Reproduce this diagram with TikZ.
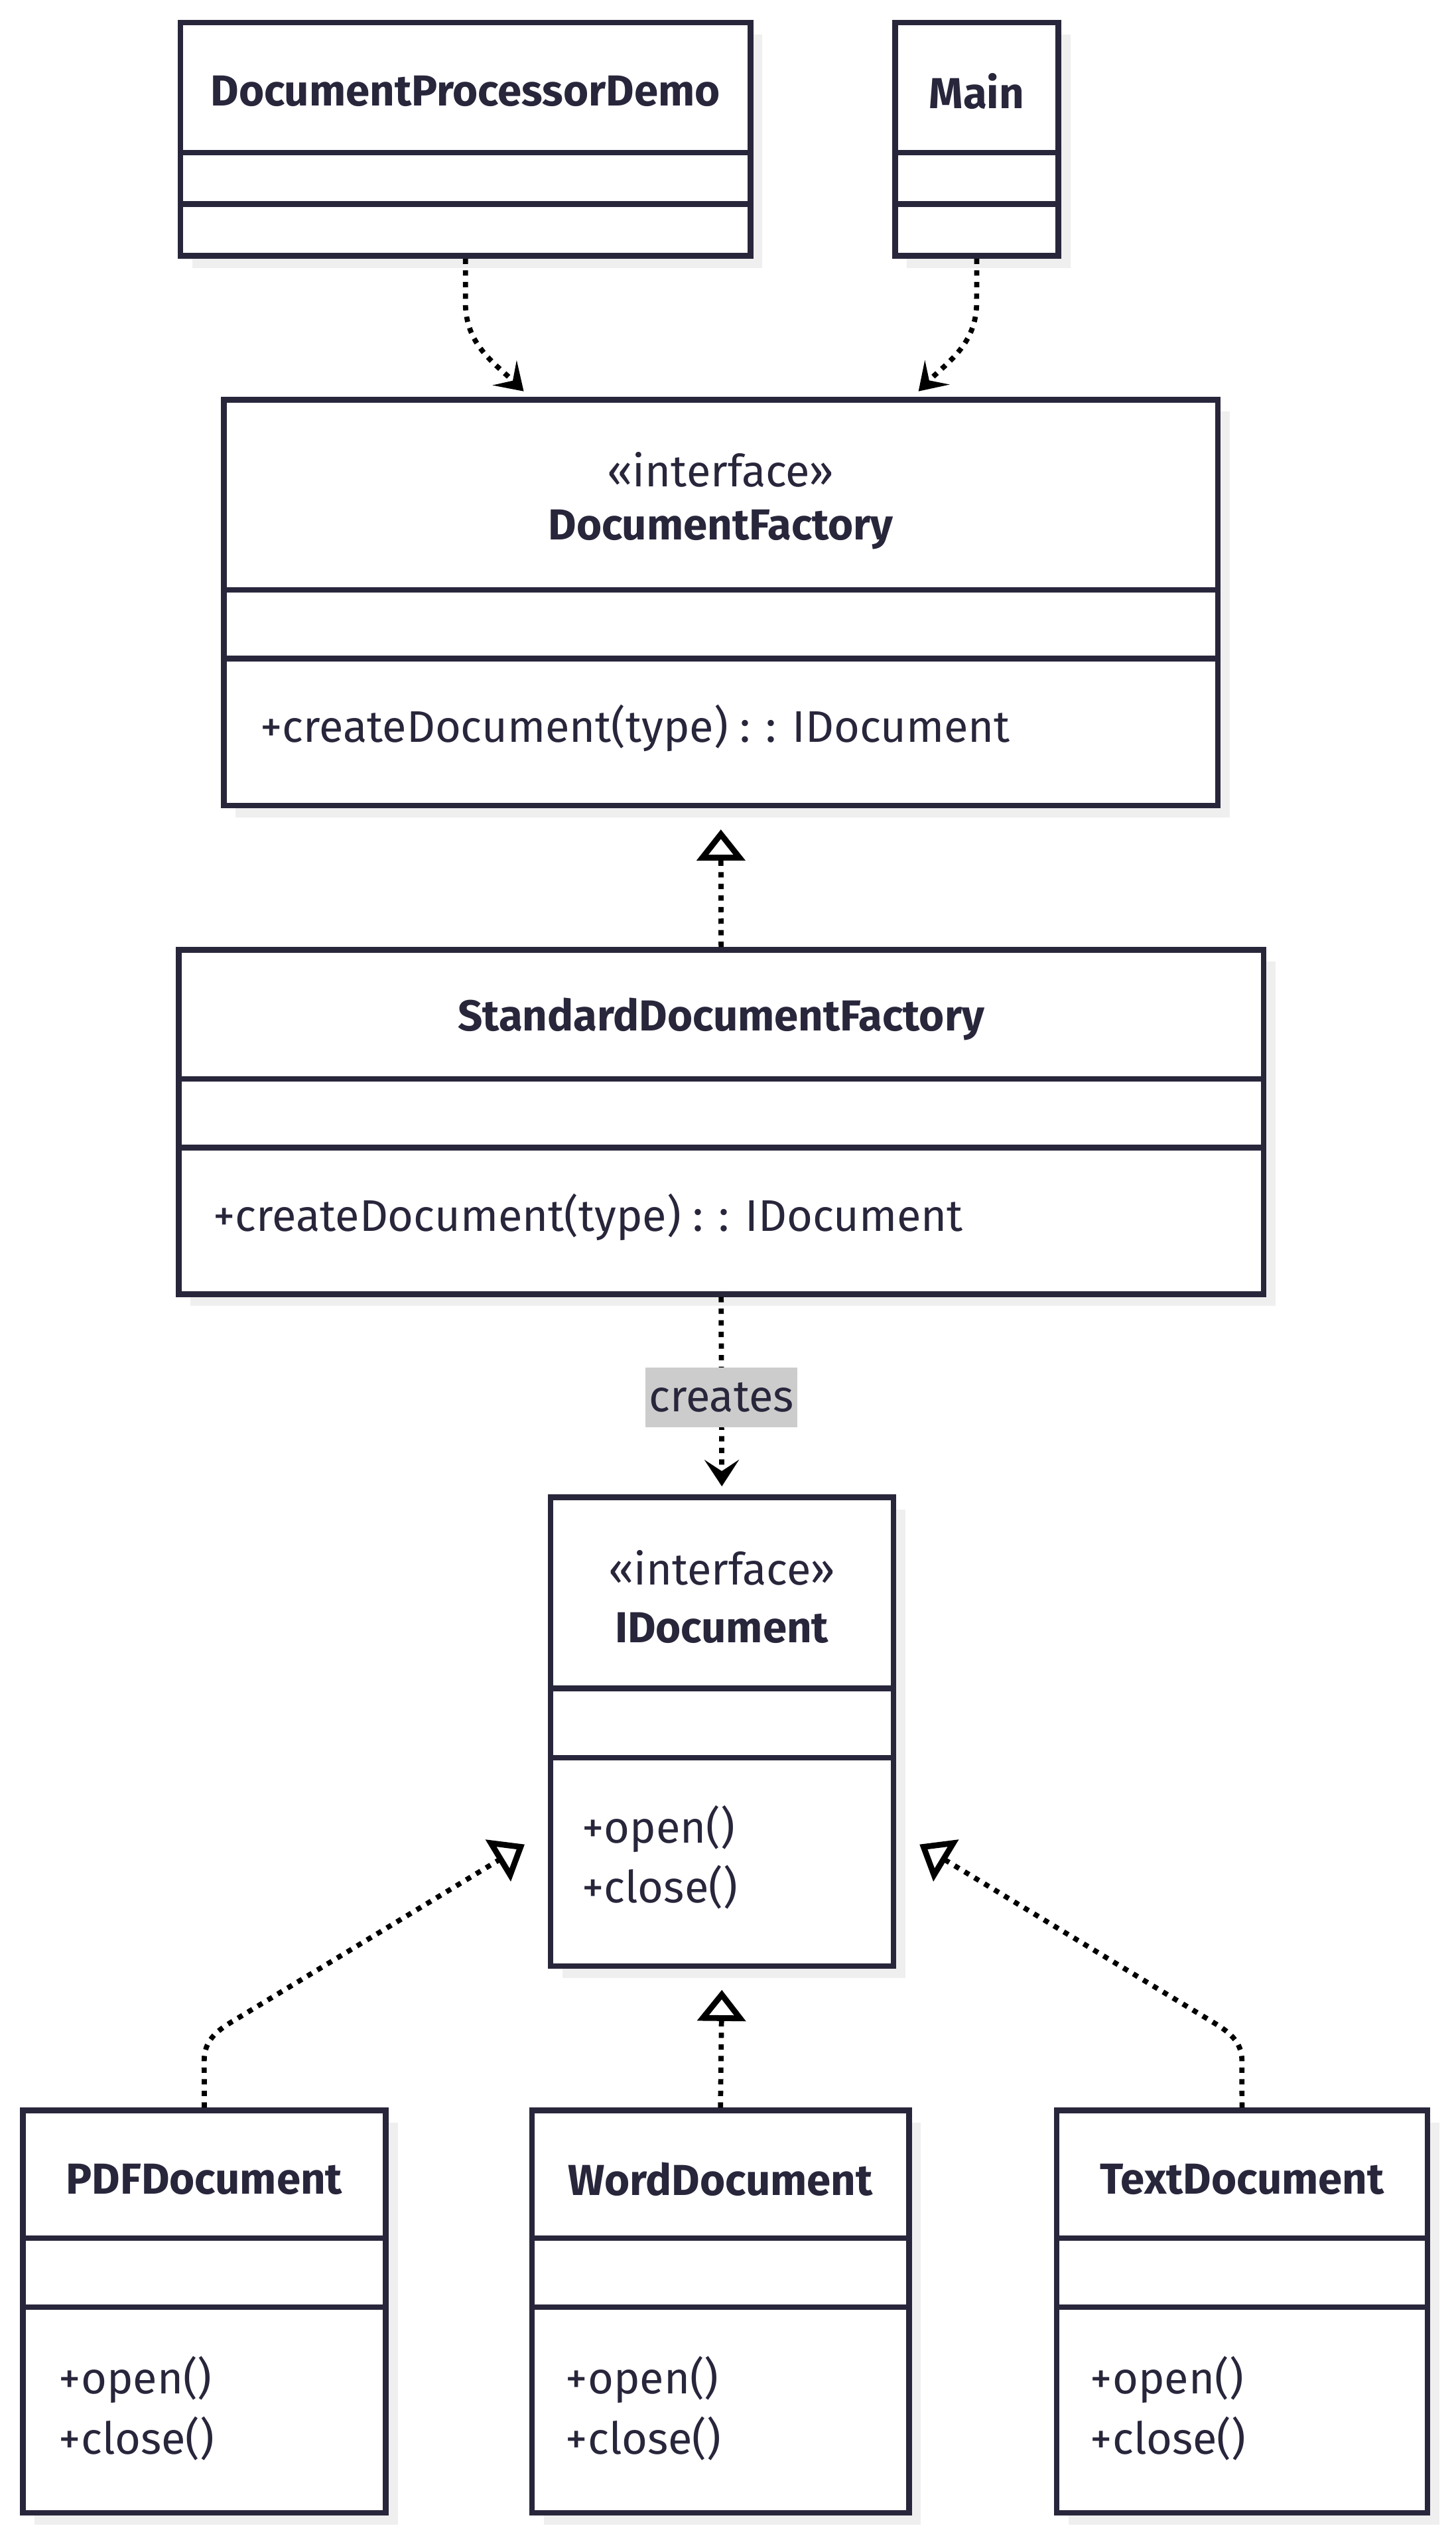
\documentclass[tikz,border=0pt]{standalone}
\usepackage{fontspec}
\setmainfont{Fira Sans}
\usetikzlibrary{arrows.meta,calc,shadows}
\definecolor{ink}{HTML}{28263B}
\definecolor{shade}{HTML}{EFEFEF}
\definecolor{tag}{HTML}{CCCCCC}
% class box: node name, left, top, right, bottom, first divider, second divider
\newcommand{\umlbox}[7]{%
  \node[cls, minimum width={(#4-#2)*0.0245cm}, minimum height={(#5-#3)*0.0245cm}]
    (#1) at ({(#2+#4)/2},{(#3+#5)/2}) {};
  \draw[rule] (#2,#6) -- (#4,#6);
  \draw[rule] (#2,#7) -- (#4,#7);
}
\begin{document}
\begin{tikzpicture}[x=0.0245cm,y=-0.0245cm,
  cls/.style={draw=ink, line width=2.4pt, fill=white, inner sep=0pt,
    general shadow={fill=shade, shadow xshift=0.18cm, shadow yshift=-0.18cm}},
  rule/.style={draw=ink, line width=2.4pt},
  title/.style={font=\fontsize{18.6}{22}\selectfont\bfseries, text=ink, inner sep=0pt},
  stereo/.style={font=\fontsize{19}{22}\selectfont, text=ink, inner sep=0pt},
  member/.style={font=\fontsize{19}{25.8}\selectfont, text=ink, align=left,
    anchor=west, inner sep=0pt},
  link/.style={black, line width=2.2pt, dash pattern=on 0.08cm off 0.095cm},
  dep/.style={link, -{Stealth[length=0.4cm,width=0.52cm,inset=0.17cm]}},
  real/.style={link, -{Triangle[open,length=0.47cm,width=0.72cm,line width=2.5pt]}},
  lbl/.style={fill=tag, text=ink, font=\fontsize{19}{22}\selectfont,
    minimum width={93.5*0.0245cm}, minimum height={37*0.0245cm}, inner sep=0pt},
]
\useasboundingbox (0,0) rectangle (896,1568);

% top row
\umlbox{dpd}{111}{14}{462}{157.5}{94}{125.6}
\node[title] (dpdname) at (286.5,56) {DocumentProcessorDemo};
\umlbox{main}{551}{14}{651.5}{157.5}{94}{125.6}
\node[title] (mainname) at (601.2,56) {Main};

% factory interface
\umlbox{df}{137.8}{246}{749.7}{495.7}{362.9}{405.3}
\node[stereo] (dfstereo) at (443.7,289) {«interface»};
\node[title] (dfname) at (443.7,326) {DocumentFactory};
\node[member] (dfops) at (160,448) {+createDocument(type) : : IDocument};

% concrete factory
\umlbox{sdf}{110}{584.5}{777.8}{796.4}{664}{706.2}
\node[title] (sdfname) at (443.9,627) {StandardDocumentFactory};
\node[member] (sdfops) at (131,749) {+createDocument(type) : : IDocument};

% document interface
\umlbox{idoc}{338.8}{921.4}{549.9}{1209.8}{1039}{1081.6}
\node[stereo] (idstereo) at (444.3,965) {«interface»};
\node[title] (idname) at (444.3,1002) {IDocument};
\node[member] (idops) at (358,1143) {+open()\\+close()};

% concrete documents
\umlbox{pdf}{14}{1298.7}{237.5}{1546.4}{1377.4}{1419.8}
\node[title] (pdfname) at (125.7,1341) {PDFDocument};
\node[member] (pdfops) at (36,1482) {+open()\\+close()};
\umlbox{word}{327.4}{1298.7}{559.6}{1546.4}{1377.4}{1419.8}
\node[title] (wordname) at (443.5,1341) {WordDocument};
\node[member] (wordops) at (348,1482) {+open()\\+close()};
\umlbox{txt}{650.4}{1298.7}{878.7}{1546.4}{1377.4}{1419.8}
\node[title] (txtname) at (764.5,1341) {TextDocument};
\node[member] (txtops) at (671,1482) {+open()\\+close()};

% connector end points on the interfaces
\coordinate (dfL) at (322.4,240.8);
\coordinate (dfR) at (565.4,240.8);
\coordinate (idL) at (323,1135);
\coordinate (idR) at (566,1135);

% dependencies
\draw[dep] (dpd.south) -- (286.5,186) .. controls (286.5,212) and (304,223) .. (dfL);
\draw[dep] (main.south) -- (601.2,186) .. controls (601.2,212) and (583,223) .. (dfR);
\draw[dep] (sdf.south) -- node[lbl, pos=0.53] (creates) {creates} ($(idoc.north)+(0,-5)$);

% realizations
\draw[real] (sdf.north) -- ($(df.south)+(0,13)$);
\draw[real] (word.north) -- ($(idoc.south)+(0,13)$);
\draw[real] (pdf.north) -- (125.7,1268) .. controls (125.7,1256) and (133,1250) .. (143,1244) -- (idL);
\draw[real] (txt.north) -- (764.5,1268) .. controls (764.5,1256) and (756,1250) .. (746,1244) -- (idR);
\end{tikzpicture}
\end{document}
